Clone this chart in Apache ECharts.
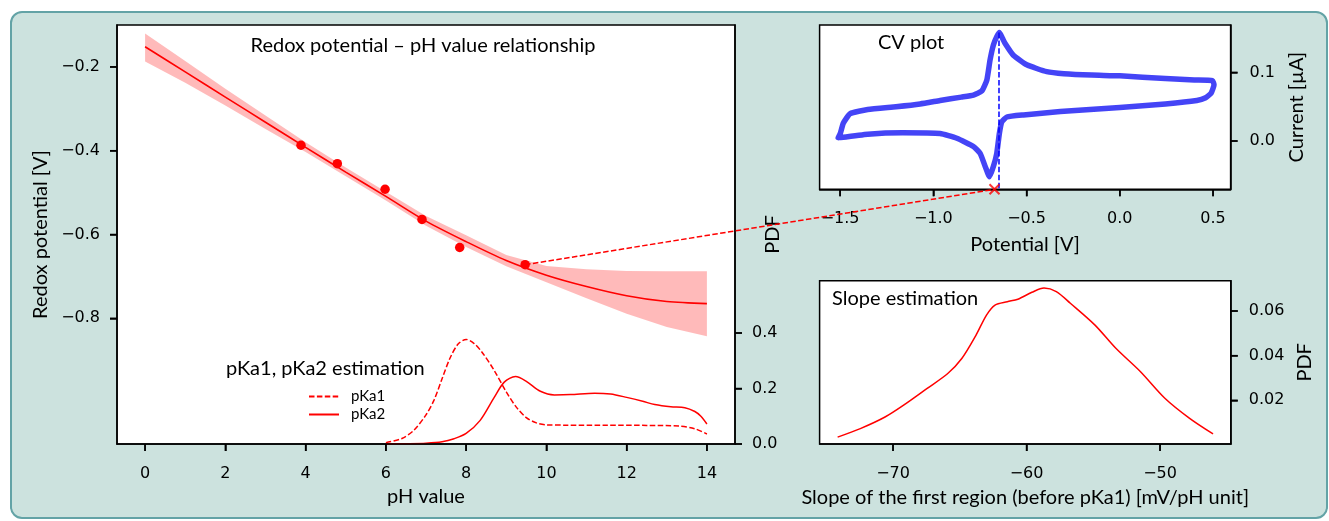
<!DOCTYPE html>
<html>
<head>
<meta charset="utf-8">
<script src="https://cdn.jsdelivr.net/npm/echarts@6/dist/echarts.min.js"></script>
<style>
  html, body { margin: 0; padding: 0; background: #fff; }
  #wrap { position: relative; width: 1329px; height: 521px; overflow: hidden; }
  #frame { position: absolute; left: 10px; top: 11px; width: 1318px; height: 508px; box-sizing: border-box;
           border: 2px solid #63a3a6; border-radius: 12px; background: #cce2de; }
  #chart { position: absolute; left: 0; top: 0; width: 1329px; height: 521px; }
</style>
</head>
<body>
<div id="wrap"><div id="frame"></div><div id="chart"></div></div>
<script>
// redox potential vs pH: fitted curve, credible band, measured points
var fitPH = [0, 1, 2, 3, 4, 5, 6, 7, 8, 9, 10, 11, 12, 13, 14];
var fitE = [-0.152, -0.212, -0.272, -0.332, -0.392, -0.451, -0.509, -0.568, -0.617, -0.662, -0.697, -0.724, -0.746, -0.760, -0.765];
var bandUpper = [-0.120, -0.186, -0.252, -0.316, -0.380, -0.440, -0.498, -0.556, -0.602, -0.649, -0.675, -0.683, -0.687, -0.688, -0.688];
var bandLower = [-0.187, -0.238, -0.292, -0.348, -0.403, -0.461, -0.519, -0.579, -0.630, -0.676, -0.714, -0.752, -0.789, -0.821, -0.843];
var pointsPH = [3.885, 4.79, 5.98, 6.90, 7.84, 9.47];
var pointsE = [-0.387, -0.431, -0.492, -0.564, -0.631, -0.672];

// pKa posteriors (twin axis)
var pka1PH = [6.0, 6.4, 6.7, 7.0, 7.2, 7.4, 7.6, 7.8, 8.0, 8.2, 8.4, 8.7, 9.0, 9.25, 9.5, 9.75, 10.0, 10.5, 11.5, 12.5, 13.3, 13.7, 14.0];
var pka1PDF = [0.005, 0.020, 0.050, 0.105, 0.158, 0.235, 0.310, 0.360, 0.377, 0.362, 0.330, 0.265, 0.188, 0.133, 0.095, 0.076, 0.069, 0.068, 0.068, 0.067, 0.065, 0.055, 0.036];
var pka2PH = [6.0, 6.5, 7.0, 7.4, 7.7, 8.0, 8.35, 8.7, 8.95, 9.23, 9.5, 9.85, 10.2, 10.6, 11.2, 11.6, 12.0, 12.4, 12.7, 13.1, 13.45, 13.7, 13.85, 14.0];
var pka2PDF = [0.000, 0.001, 0.003, 0.008, 0.019, 0.038, 0.085, 0.168, 0.223, 0.243, 0.226, 0.190, 0.177, 0.178, 0.183, 0.180, 0.168, 0.154, 0.142, 0.134, 0.131, 0.117, 0.100, 0.072];

// cyclic voltammogram
var cvV = [-1.510, -1.498, -1.483, -1.446, -1.352, -1.200, -1.071, -0.964, -0.850, -0.785, -0.740, -0.713, -0.696, -0.678, -0.660, -0.646, -0.630, -0.615, -0.571, -0.499, -0.392, -0.300, -0.150, 0.000, 0.244, 0.400, 0.497, 0.505, 0.490, 0.460, 0.413, 0.244, 0.000, -0.319, -0.517, -0.606, -0.633, -0.646, -0.660, -0.678, -0.699, -0.722, -0.749, -0.785, -0.874, -0.964, -1.164, -1.352, -1.498];
var cvI = [0.005, 0.012, 0.026, 0.040, 0.046, 0.050, 0.054, 0.059, 0.064, 0.067, 0.073, 0.089, 0.118, 0.140, 0.152, 0.158, 0.150, 0.142, 0.125, 0.111, 0.101, 0.098, 0.096, 0.095, 0.091, 0.089, 0.088, 0.082, 0.070, 0.063, 0.059, 0.054, 0.049, 0.043, 0.038, 0.035, 0.028, 0.011, -0.018, -0.037, -0.052, -0.037, -0.018, -0.008, 0.004, 0.011, 0.012, 0.010, 0.005];
var peakV = -0.648, peakI = 0.158;
var halfWaveV = -0.672;

// slope posterior
var slopeX = [-74.15, -72.45, -70.6, -69.04, -67.47, -65.9, -64.85, -63.8, -63.0, -62.36, -61.44, -60.65, -59.6, -58.69, -57.77, -56.72, -54.89, -53.31, -51.48, -49.64, -47.81, -46.03];
var slopePDF = [0.0035, 0.0073, 0.0125, 0.0185, 0.0252, 0.032, 0.0387, 0.049, 0.0582, 0.0627, 0.0642, 0.0653, 0.0684, 0.0703, 0.0687, 0.0635, 0.0538, 0.0433, 0.0329, 0.0209, 0.0120, 0.0049];

var phTicks = [0, 2, 4, 6, 8, 10, 12, 14];
var eTicks = [-0.8, -0.6, -0.4, -0.2];
var pkaTicks = [0, 0.2, 0.4];
var cvXTicks = [-1.5, -1.0, -0.5, 0.0, 0.5];
var cvYTicks = [0.0, 0.1];
var slopeXTicks = [-70, -60, -50];
var slopeYTicks = [0.02, 0.04, 0.06];

var phRange = [-0.7, 14.7], eRange = [-1.1, -0.1], pkaRange = [0, 1.51];
var cvXRange = [-1.61, 0.594], cvYRange = [-0.0703, 0.169];
var slopeXRange = [-75.5, -44.7], slopeYRange = [0.0004, 0.0736];
var cvYMin = cvYRange[0];
var tickFont = 'DejaVu Sans';
var textFont = 'Lato';
var tickLen = 7;

function pairs(xs, ys) {
  return xs.map(function (x, i) { return [x, ys[i]]; });
}
function fmt(d) {
  return function (v) {
    var s = Math.abs(v).toFixed(d);
    return v < -1e-9 ? '\u2212' + s : s;
  };
}
function axisX(grid, range, ticks, dec, name, gap) {
  return {
    type: 'value', gridIndex: grid, min: range[0], max: range[1], z: 5,
    name: name, nameLocation: 'middle', nameGap: gap, nameMoveOverlap: false,
    nameTextStyle: { fontFamily: textFont, fontSize: 20, color: '#000' },
    axisLine: { show: true, onZero: false, lineStyle: { color: '#000', width: 1.5 } },
    axisTick: { show: true, inside: false, length: tickLen, customValues: ticks, lineStyle: { color: '#000', width: 1.5 } },
    axisLabel: { customValues: ticks, formatter: fmt(dec), margin: 22, fontFamily: tickFont, fontSize: 16, color: '#000' },
    splitLine: { show: false }
  };
}
function axisY(grid, pos, range, ticks, dec, name, gap, margin) {
  return {
    type: 'value', gridIndex: grid, position: pos, min: range[0], max: range[1], z: 5,
    name: name, nameLocation: 'middle', nameGap: gap, nameRotate: 90, nameMoveOverlap: false,
    nameTextStyle: { fontFamily: textFont, fontSize: 20, color: '#000' },
    axisLine: { show: true, onZero: false, lineStyle: { color: '#000', width: 1.5 } },
    axisTick: { show: true, inside: false, length: tickLen, customValues: ticks, lineStyle: { color: '#000', width: 1.5 } },
    axisLabel: { customValues: ticks, formatter: fmt(dec), margin: margin, fontFamily: tickFont, fontSize: 16, color: '#000' },
    splitLine: { show: false }
  };
}

var gridStyle = { show: true, backgroundColor: '#fff', borderColor: '#000', borderWidth: 1.5 };
var dash = [5.5, 2.4];

var chart = echarts.init(document.getElementById('chart'));

var graphics = [
  { type: 'text', z: 10, x: 423, y: 46, style: { text: 'Redox potential \u2013 pH value relationship', font: '20px ' + textFont, fill: '#000', textAlign: 'center', textVerticalAlign: 'middle' } },
  { type: 'text', z: 10, x: 226, y: 369, style: { text: 'pKa1, pKa2 estimation', font: '20px ' + textFont, fill: '#000', textAlign: 'left', textVerticalAlign: 'middle' } },
  { type: 'text', z: 10, x: 878, y: 43, style: { text: 'CV plot', font: '20px ' + textFont, fill: '#000', textAlign: 'left', textVerticalAlign: 'middle' } },
  { type: 'text', z: 10, x: 832, y: 299, style: { text: 'Slope estimation', font: '20px ' + textFont, fill: '#000', textAlign: 'left', textVerticalAlign: 'middle' } }
];

var option = {
  animation: false,
  backgroundColor: 'transparent',
  grid: [
    Object.assign({ left: 117, top: 25, width: 618, height: 419 }, gridStyle),
    Object.assign({ left: 819.6, top: 25, width: 411, height: 164.3 }, gridStyle),
    Object.assign({ left: 819.6, top: 280.7, width: 411.2, height: 163.3 }, gridStyle)
  ],
  xAxis: [
    axisX(0, phRange, phTicks, 0, 'pH value', 43),
    axisX(1, cvXRange, cvXTicks, 1, 'Potential [V]', 45),
    axisX(2, slopeXRange, slopeXTicks, 0, 'Slope of the first region (before pKa1) [mV/pH unit]', 44)
  ],
  yAxis: [
    axisY(0, 'left', eRange, eTicks, 1, 'Redox potential [V]', 66, 17),
    axisY(0, 'right', pkaRange, pkaTicks, 1, 'PDF', 28, 17),
    axisY(1, 'right', cvYRange, cvYTicks, 1, 'Current [\u00b5A]', 56, 19),
    axisY(2, 'right', slopeYRange, slopeYTicks, 2, 'PDF', 64, 18)
  ],
  legend: {
    data: ['pKa1', 'pKa2'], orient: 'vertical', left: 303, top: 384,
    itemWidth: 30, itemHeight: 12, itemGap: 3, selectedMode: false,
    itemStyle: { opacity: 0 },
    textStyle: { fontFamily: textFont, fontSize: 15, color: '#000', padding: [0, 0, 0, 7] }
  },
  graphic: graphics,
  series: [
    { name: 'band', type: 'custom', xAxisIndex: 0, yAxisIndex: 0, silent: true, z: 1,
      data: [[fitPH[0], fitE[0]]],
      renderItem: function (params, api) {
        var pts = [];
        for (var i = 0; i < fitPH.length; i++) pts.push(api.coord([fitPH[i], bandUpper[i]]));
        for (var j = fitPH.length - 1; j >= 0; j--) pts.push(api.coord([fitPH[j], bandLower[j]]));
        return { type: 'polygon', shape: { points: pts }, style: { fill: 'rgba(255,0,0,0.27)' } };
      } },
    { name: 'fit', type: 'line', xAxisIndex: 0, yAxisIndex: 0, data: pairs(fitPH, fitE), smooth: 0.3,
      symbol: 'none', lineStyle: { color: '#ff0000', width: 1.6 }, z: 2 },
    { name: 'measured', type: 'scatter', xAxisIndex: 0, yAxisIndex: 0, data: pairs(pointsPH, pointsE),
      symbolSize: 9.5, itemStyle: { color: '#ff0000', opacity: 1 }, z: 3 },
    { name: 'pKa1', type: 'line', xAxisIndex: 0, yAxisIndex: 1, data: pairs(pka1PH, pka1PDF), smooth: 0.3,
      symbol: 'none', color: '#ff0000', lineStyle: { color: '#ff0000', width: 1.5, type: dash }, z: 2 },
    { name: 'pKa2', type: 'line', xAxisIndex: 0, yAxisIndex: 1, data: pairs(pka2PH, pka2PDF), smooth: 0.3,
      symbol: 'none', color: '#ff0000', lineStyle: { color: '#ff0000', width: 1.5 }, z: 2 },
    { name: 'cv', type: 'line', xAxisIndex: 1, yAxisIndex: 2, data: pairs(cvV, cvI), smooth: 0.15,
      symbol: 'none', lineStyle: { color: 'rgba(35,35,245,0.85)', width: 5.5, cap: 'round', join: 'round' }, z: 2 },
    { name: 'peak', type: 'line', xAxisIndex: 1, yAxisIndex: 2, data: [[peakV, peakI], [peakV, cvYMin]],
      symbol: 'none', lineStyle: { color: '#0000ff', width: 1.5, type: dash }, z: 3 },
    { name: 'e-half', type: 'scatter', xAxisIndex: 1, yAxisIndex: 2, data: [[halfWaveV, cvYMin]], clip: false,
      symbol: 'path://M0,0L10,10M10,0L0,10', symbolSize: 10,
      itemStyle: { color: 'transparent', borderColor: '#ff0000', borderWidth: 2 }, z: 5 },
    { name: 'slope', type: 'line', xAxisIndex: 2, yAxisIndex: 3, data: pairs(slopeX, slopePDF), smooth: 0.3,
      symbol: 'none', lineStyle: { color: '#ff0000', width: 1.5 }, z: 2 }
  ]
};
chart.setOption(option);

// outward tick marks as small filled bars, positioned through each axis pair's scale
function addTicks(xi, yi, xTicks, yAt, yTicks, xAt, side) {
  var finder = { xAxisIndex: xi, yAxisIndex: yi };
  xTicks.forEach(function (t) {
    var p = chart.convertToPixel(finder, [t, yAt]);
    graphics.push({ type: 'rect', z: 15, shape: { x: p[0] - 0.75, y: p[1], width: 1.5, height: tickLen },
      style: { fill: '#000' } });
  });
  yTicks.forEach(function (t) {
    var p = chart.convertToPixel(finder, [xAt, t]);
    var x0 = side < 0 ? p[0] - tickLen : p[0];
    graphics.push({ type: 'rect', z: 15, shape: { x: x0, y: p[1] - 0.75, width: tickLen, height: 1.5 },
      style: { fill: '#000' } });
  });
}
addTicks(0, 0, phTicks, eRange[0], eTicks, phRange[0], -1);
addTicks(0, 1, [], pkaRange[0], pkaTicks, phRange[1], 1);
addTicks(1, 2, cvXTicks, cvYRange[0], cvYTicks, cvXRange[1], 1);
addTicks(2, 3, slopeXTicks, slopeYRange[0], slopeYTicks, slopeXRange[1], 1);

// dashed connector from the last measured point to E1/2 on the CV axis
var from = chart.convertToPixel({ xAxisIndex: 0, yAxisIndex: 0 }, [pointsPH[5], pointsE[5]]);
var to = chart.convertToPixel({ xAxisIndex: 1, yAxisIndex: 2 }, [halfWaveV, cvYMin]);
graphics.push({ type: 'line', z: 20, shape: { x1: from[0], y1: from[1], x2: to[0], y2: to[1] },
  style: { stroke: '#ff0000', lineWidth: 1.5, lineDash: dash } });
chart.setOption({ graphic: graphics });
</script>
</body>
</html>
